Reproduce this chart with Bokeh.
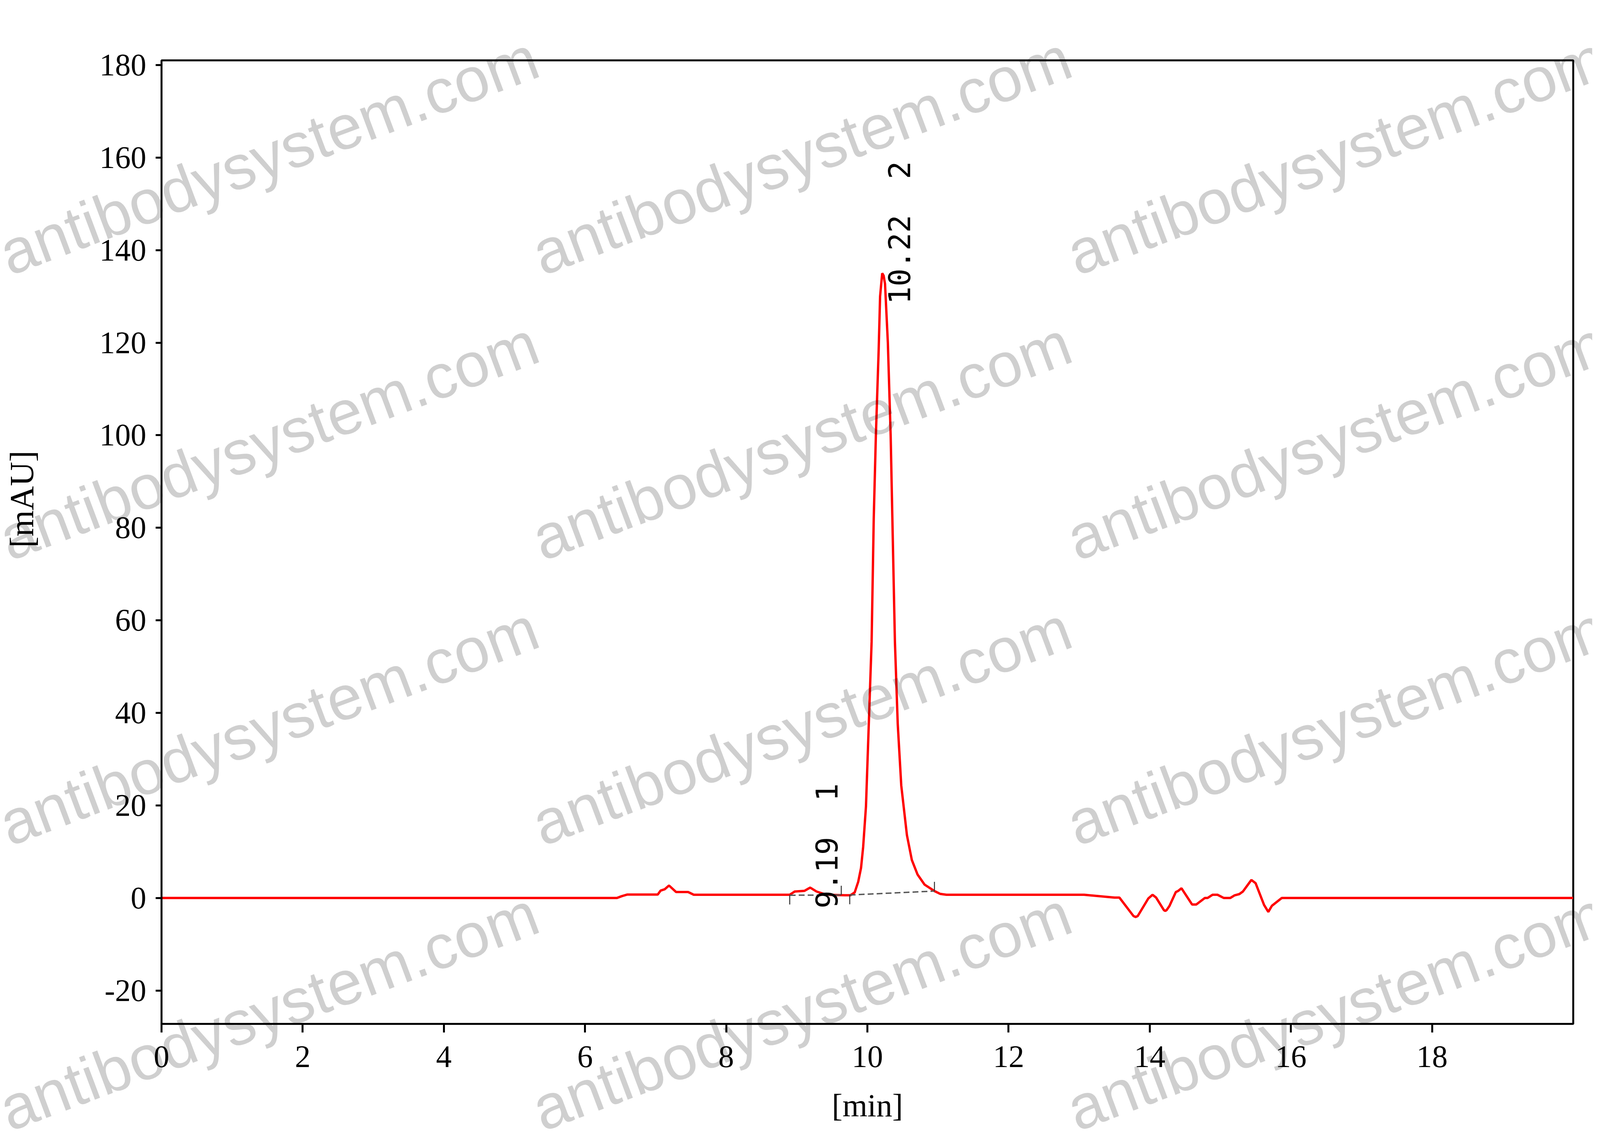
import math
from bokeh.plotting import figure
from bokeh.models import Range1d, FixedTicker
from bokeh.core.properties import value
from bokeh.embed import file_html
from bokeh.resources import INLINE

# ---------------- data ----------------
time_min = [0.00, 6.45, 6.52, 6.60, 7.03, 7.07, 7.13, 7.19, 7.29, 7.46, 7.54,
            8.90, 8.97, 9.11, 9.19, 9.28, 9.42, 9.68, 9.76, 9.82, 9.87, 9.91,
            9.94, 9.98, 10.02, 10.06, 10.09, 10.12, 10.16, 10.18, 10.21, 10.23,
            10.25, 10.29, 10.33, 10.36, 10.39, 10.43, 10.48, 10.56, 10.63, 10.71,
            10.81, 10.95, 11.03, 11.12, 13.07, 13.50, 13.57, 13.77, 13.80, 13.83,
            13.98, 14.04, 14.09, 14.20, 14.22, 14.24, 14.28, 14.37, 14.40, 14.45,
            14.60, 14.66, 14.78, 14.82, 14.89, 14.96, 15.05, 15.14, 15.20, 15.27,
            15.32, 15.44, 15.50, 15.62, 15.68, 15.73, 15.87, 20.00]
signal_mau = [0.0, 0.0, 0.4, 0.75, 0.75, 1.6, 1.9, 2.7, 1.3, 1.3, 0.7,
              0.7, 1.4, 1.55, 2.25, 1.4, 0.7, 0.6, 0.6, 1.2, 3.5, 6.5,
              11.0, 19.8, 37.6, 55.4, 82.0, 99.8, 118.5, 130.0, 135.0, 134.5,
              132.7, 120.0, 99.8, 77.5, 55.4, 37.6, 24.3, 13.6, 8.2, 5.1,
              2.9, 1.5, 0.9, 0.7, 0.7, 0.1, 0.1, -3.9, -4.1, -3.9,
              -0.1, 0.7, 0.1, -2.6, -2.8, -2.6, -1.7, 1.3, 1.5, 2.1,
              -1.4, -1.4, 0.0, 0.0, 0.7, 0.7, 0.0, 0.0, 0.56, 0.85,
              1.4, 3.9, 3.2, -1.5, -3.0, -1.7, 0.0, 0.0]

peak_rt = [9.19, 10.22]
peak_no = [1, 2]
peak_apex = [2.25, 135.0]
base_start_t = [8.90, 9.75]
base_start_v = [0.60, 0.65]
base_end_t = [9.63, 10.95]
base_end_v = [0.65, 1.50]

x_ticks = [0, 2, 4, 6, 8, 10, 12, 14, 16, 18]
y_ticks = [-20, 0, 20, 40, 60, 80, 100, 120, 140, 160, 180]

x_title = "[min]"
y_title = "[mAU]"
watermark = "antibodysystem.com"

# ---------------- layout ----------------
# reference pixel positions mapped onto the page: x squeezed to the
# visible page width, y kept.
KX = 4092 / 6033
KY = 1.0


def sx(v):
    return v * KX


def sy(v):
    return v * KY


X0, X1 = 0.0, 20.0
Y0, Y1 = -27.2, 181.0
W, H = 4076, 2890
page_right, page_bottom = 8 + W, 8 + H
mb_left = round(sx(621) - 8)
mb_right = round(page_right - sx(5949))
mb_top = round(sy(162) - 8)
mb_bottom = round(page_bottom - sy(2628))
fl, fr = 8 + mb_left, page_right - mb_right
ft, fb = 8 + mb_top, page_bottom - mb_bottom


def to_data(px, py):
    """page pixel position -> data coordinates of the plot frame"""
    return (X0 + (px - fl) / (fr - fl) * (X1 - X0),
            Y0 + (fb - py) / (fb - ft) * (Y1 - Y0))


p = figure(width=W, height=H, output_backend="svg", toolbar_location=None,
           x_range=Range1d(X0, X1), y_range=Range1d(Y0, Y1),
           min_border_left=mb_left, min_border_right=mb_right,
           min_border_top=mb_top, min_border_bottom=mb_bottom,
           x_axis_label=x_title)
p.grid.visible = False
p.background_fill_color = "white"
p.border_fill_color = "white"
p.outline_line_color = "black"
p.outline_line_width = 5

for ax in (p.xaxis[0], p.yaxis[0]):
    ax.axis_line_width = 5
    ax.axis_line_color = "black"
    ax.major_tick_line_width = 5
    ax.major_tick_line_color = "black"
    ax.major_tick_in = 0
    ax.minor_tick_line_color = None
    ax.major_label_text_font = "Liberation Serif"
    ax.major_label_text_font_size = "80px"
    ax.major_label_text_color = "black"
    ax.axis_label_text_font = "Liberation Serif"
    ax.axis_label_text_font_size = "82px"
    ax.axis_label_text_font_style = "normal"
    ax.axis_label_text_color = "black"

p.xaxis.major_tick_out = 22
p.yaxis.major_tick_out = 15
p.xaxis.ticker = FixedTicker(ticks=x_ticks)
p.yaxis.ticker = FixedTicker(ticks=y_ticks)
p.xaxis.major_label_overrides = {t: str(t) for t in x_ticks}
p.yaxis.major_label_overrides = {t: str(t) for t in y_ticks}
p.xaxis.major_label_standoff = 35
p.yaxis.major_label_standoff = 24
p.xaxis.axis_label_standoff = 50

# y-axis title (sits above the frame centre in the reference)
ty_x, ty_y = to_data(sx(94), sy(1285))
p.text(x=[ty_x], y=[ty_y], text=[y_title], angle=math.pi / 2,
       text_font=value("Liberation Serif"), text_font_size="86px",
       text_align="center", text_baseline="middle", text_color="black",
       level="overlay")

# chromatogram trace
p.line(time_min, signal_mau, line_color="#ff0000", line_width=6)

# integration baselines and peak boundary markers
p.segment(x0=base_start_t, y0=base_start_v, x1=base_end_t, y1=base_end_v,
          line_color="#555555", line_width=3.5, line_dash="15 8")
tick_len = 2.0
p.segment(x0=base_start_t, y0=base_start_v, x1=base_start_t,
          y1=[v - tick_len for v in base_start_v], line_color="#333333", line_width=2.5)
p.segment(x0=base_end_t, y0=base_end_v, x1=base_end_t,
          y1=[v + tick_len for v in base_end_v], line_color="#333333", line_width=2.5)

# peak labels (retention time + peak number)
label_dx = 0.24
label_dy = [-4.5, -6.7]
labels = [f"{rt:.2f}\u00a0\u00a0{n}" for rt, n in zip(peak_rt, peak_no)]
p.text(x=[rt + label_dx for rt in peak_rt],
       y=[h + d for h, d in zip(peak_apex, label_dy)], text=labels,
       angle=math.pi / 2, text_font=value("DejaVu Sans Mono"), text_font_size="76px",
       text_baseline="middle", text_align="left", text_color="black")

# watermark grid (page positions -> data coordinates, drawn unclipped on overlay level)
wm_cols = [19, 2030, 4048]
wm_rows = [662, 1392, 2122, 2852]
wm_base_angle = 14.3
wm_angle = math.degrees(math.atan2(math.sin(math.radians(wm_base_angle)) * KY,
                                   math.cos(math.radians(wm_base_angle)) * KX))
wm_x, wm_y = [], []
for yy in wm_rows:
    for xx in wm_cols:
        dx, dy = to_data(sx(xx), sy(yy))
        wm_x.append(dx)
        wm_y.append(dy)
p.text(x=wm_x, y=wm_y, text=[watermark] * len(wm_x), angle=wm_angle, angle_units="deg",
       text_font=value("Liberation Sans"), text_font_size="160px",
       text_color="black", text_alpha=0.19, text_baseline="alphabetic",
       text_align="left", level="overlay")

open("out.html", "w").write(file_html(p, INLINE))
